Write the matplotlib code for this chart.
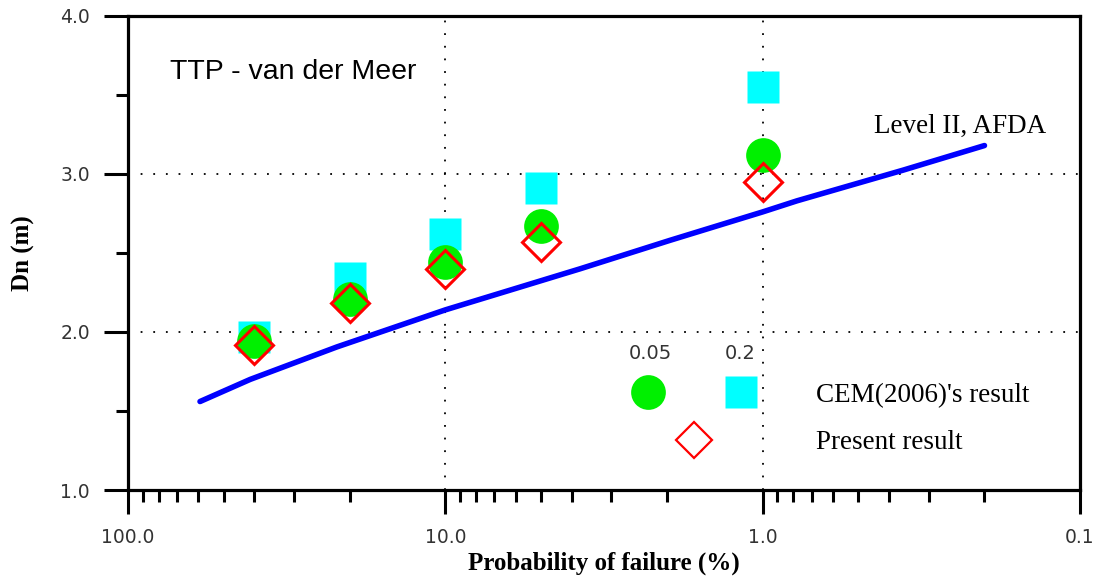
import matplotlib
matplotlib.use('Agg')
import matplotlib.pyplot as plt
from matplotlib.ticker import FixedLocator, LogLocator, NullFormatter
from matplotlib.lines import Line2D
from matplotlib.legend_handler import HandlerTuple

# probability of failure (%) of the design cases
pf = [40.0, 20.0, 10.0, 5.0, 1.0]
dn_cem_02 = [1.97, 2.34, 2.62, 2.91, 3.55]    # CEM(2006), 0.2
dn_cem_005 = [1.94, 2.21, 2.44, 2.67, 3.12]   # CEM(2006), 0.05
dn_present = [1.92, 2.185, 2.40, 2.57, 2.95]  # present result

# Level II, AFDA curve
pf_afda = [59.3, 41.2, 22.0, 10.0, 3.76, 1.96, 1.0, 0.78, 0.36, 0.20]
dn_afda = [1.56, 1.70, 1.905, 2.14, 2.40, 2.58, 2.76, 2.83, 3.025, 3.18]

xticks = [100.0, 10.0, 1.0, 0.1]
xticklabels = ['100.0', '10.0', '1.0', '0.1']
yticks = [1.0, 2.0, 3.0, 4.0]
yticklabels = ['1.0', '2.0', '3.0', '4.0']
yminor = [1.5, 2.5, 3.5]

serif = 'Liberation Serif'
tick_col = '#333333'

fig = plt.figure(figsize=(10.94, 5.83), dpi=100)
ax = fig.add_axes([0.117, 0.1595, 0.8702, 0.8131])

ax.plot(pf_afda, dn_afda, color='#0000ff', lw=4, solid_capstyle='round',
        solid_joinstyle='round', zorder=3)
ax.plot(pf, dn_cem_02, ls='none', marker='s', ms=23.5, mfc='#00ffff', mec='none', zorder=4)
ax.plot(pf, dn_cem_005, ls='none', marker='o', ms=25, mfc='#00f000', mec='none', zorder=5)
ax.plot(pf, dn_present, ls='none', marker='D', ms=19, mfc='none', mec='#ff0000',
        mew=2.2, zorder=6)

ax.set_xscale('log')
ax.set_xlim(100, 0.1)
ax.set_ylim(1, 4)

ax.xaxis.set_major_locator(FixedLocator(xticks))
ax.set_xticklabels(xticklabels)
ax.xaxis.set_minor_locator(LogLocator(base=10, subs=range(2, 10)))
ax.xaxis.set_minor_formatter(NullFormatter())
ax.yaxis.set_major_locator(FixedLocator(yticks))
ax.set_yticklabels(yticklabels)
ax.yaxis.set_minor_locator(FixedLocator(yminor))

ax.tick_params(which='major', direction='out', length=17.5, width=2.2,
               labelsize=13.5, labelcolor=tick_col, pad=10)
ax.tick_params(which='minor', direction='out', length=8.5, width=2.2)
for sp in ax.spines.values():
    sp.set_linewidth(2.3)

ax.set_axisbelow(True)
ax.grid(True, which='major', color='k', linestyle=(0, (1, 6)), linewidth=1.3)

ax.set_xlabel('Probability of failure (%)', fontfamily=serif, fontweight='bold', fontsize=18)
ax.xaxis.set_label_coords(0.5, -0.13)
ax.set_ylabel('Dn (m)', fontfamily=serif, fontweight='bold', fontsize=18)
ax.yaxis.set_label_coords(-0.098, 0.5)

ax.text(0.044, 0.867, 'TTP - van der Meer', transform=ax.transAxes,
        fontfamily='Liberation Sans', fontsize=20.5, va='baseline')
ax.text(0.784, 0.753, 'Level II, AFDA', transform=ax.transAxes,
        fontfamily=serif, fontsize=19.5, va='baseline')

# legend: circle + square share one row, diamond below
h_cem = (Line2D([], [], ls='none', marker='o', ms=25, mfc='#00f000', mec='none'),
         Line2D([], [], ls='none', marker='s', ms=22.5, mfc='#00ffff', mec='none'))
h_present = Line2D([], [], ls='none', marker='D', ms=18.5, mfc='none', mec='#ff0000', mew=1.6)
ax.legend([h_cem, h_present], ["CEM(2006)'s result", 'Present result'],
          handler_map={tuple: HandlerTuple(ndivide=None, pad=0)},
          loc='upper left', bbox_to_anchor=(0.4974, 0.226), frameon=False,
          borderaxespad=0, borderpad=0, handlelength=6.86, handletextpad=1.05,
          labelspacing=0.82, prop={'family': serif, 'size': 19.5})
ax.text(0.549, 0.289, '0.05', transform=ax.transAxes, ha='center', va='center',
        fontsize=14, color=tick_col)
ax.text(0.643, 0.289, '0.2', transform=ax.transAxes, ha='center', va='center',
        fontsize=14, color=tick_col)

fig.savefig('out.png', dpi=100)
